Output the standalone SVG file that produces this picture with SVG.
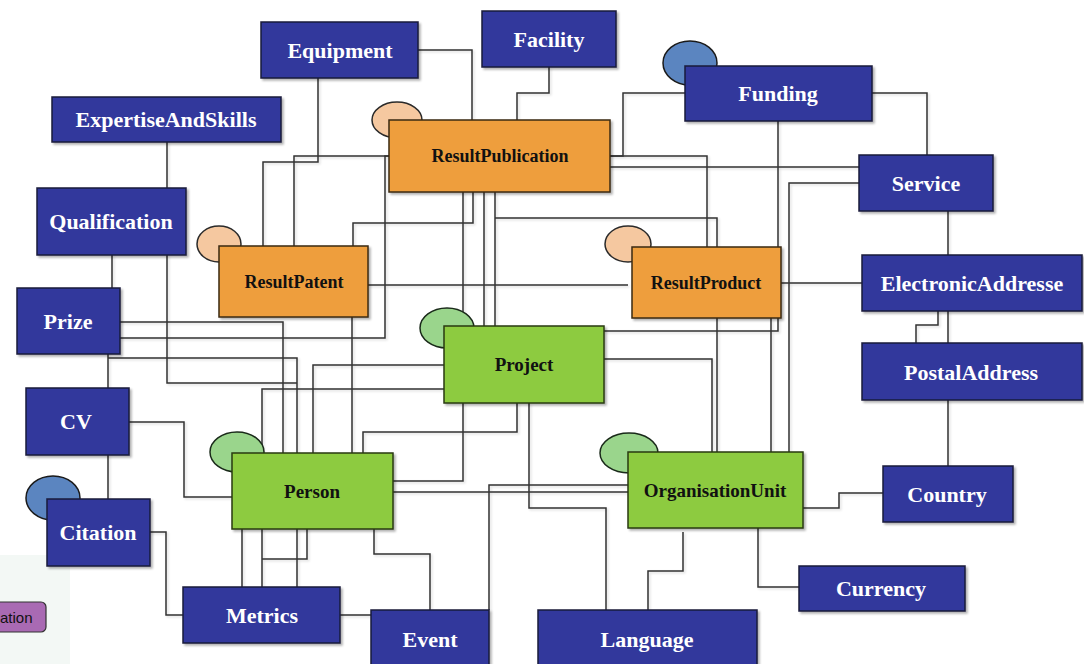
<svg xmlns="http://www.w3.org/2000/svg" width="1084" height="664" viewBox="0 0 1084 664">
<style>
.blue{fill:#33399c;stroke:#1a1a3a;stroke-width:1.5}
.orange{fill:#ee9e3d;stroke:#3a2a10;stroke-width:1.5}
.green{fill:#8dcb40;stroke:#2a3a10;stroke-width:1.5}
.cb{fill:#5b85c0;stroke:#1a1a1a;stroke-width:1.5}
.co{fill:#f5c8a0;stroke:#2a2a2a;stroke-width:1.5}
.cg{fill:#9ad58c;stroke:#1a2a1a;stroke-width:1.5}
.wt{font-family:"Liberation Serif","Times New Roman",serif;font-weight:bold;font-size:22px;fill:#fff;text-anchor:middle}
.bt{font-family:"Liberation Serif","Times New Roman",serif;font-weight:bold;font-size:18px;fill:#111;text-anchor:middle}
.gt{font-size:19px}
#connectors path{fill:none;stroke:#333;stroke-width:1.5}
</style>
<defs>
<filter id="sh" x="-10%" y="-10%" width="130%" height="130%">
<feDropShadow dx="2" dy="2" stdDeviation="1" flood-color="#000" flood-opacity="0.3"/>
</filter>
<filter id="lsh" x="-5%" y="-5%" width="110%" height="110%">
<feDropShadow dx="1.5" dy="1.5" stdDeviation="0.8" flood-color="#000" flood-opacity="0.15"/>
</filter>
</defs>
<rect x="0" y="0" width="1084" height="664" fill="#fff"/>
<rect x="0" y="555" width="70" height="109" fill="#f3f8f5"/>
<g id="ation">
<rect x="-8" y="602" width="54" height="30" rx="5" fill="#a96ab3" stroke="#333" stroke-width="1.2"/>
<text x="0" y="623" font-family="'Liberation Sans',Arial,sans-serif" font-size="15" fill="#111">ation</text>
</g>
<g id="connectors" filter="url(#lsh)">
<path d="M318,78 V162 H263 V246"/>
<path d="M418,50 H472 V120"/>
<path d="M549,67 V93 H517 V120"/>
<path d="M685,93 H623 V156 H610"/>
<path d="M610,156 H707 V247"/>
<path d="M610,167 H859"/>
<path d="M872,93 H927 V155"/>
<path d="M778,121 V331 H604"/>
<path d="M859,183 H789 V452"/>
<path d="M948,211 V255"/>
<path d="M781,283 H862"/>
<path d="M948,311 V343"/>
<path d="M938,311 V325 H916 V343"/>
<path d="M948,400 V466"/>
<path d="M803,508 H839 V493 H883"/>
<path d="M758,528 V587 H799"/>
<path d="M683,532 V571 H648 V610"/>
<path d="M529,403 V508 H606 V610"/>
<path d="M489,610 V485 H628"/>
<path d="M393,492 H628"/>
<path d="M463,192 V481 H393"/>
<path d="M484,192 V326"/>
<path d="M495,192 V326"/>
<path d="M495,218 H717 V247"/>
<path d="M473,192 V223 H353 V246"/>
<path d="M390,156 H294 V246"/>
<path d="M120,338 H385 V156 H390"/>
<path d="M120,322 H283 V453"/>
<path d="M352,317 V453"/>
<path d="M368,285 H628"/>
<path d="M444,365 H313 V453"/>
<path d="M444,389 H262 V453"/>
<path d="M517,403 V432 H363 V453"/>
<path d="M604,359 H712 V452"/>
<path d="M717,318 V452"/>
<path d="M771,318 V452"/>
<path d="M167,142 V188"/>
<path d="M112,255 V288"/>
<path d="M167,255 V383 H297"/>
<path d="M108,354 V388"/>
<path d="M108,358 H297 V453"/>
<path d="M129,422 H184 V497 H232"/>
<path d="M108,455 V499"/>
<path d="M150,532 H166 V615 H183"/>
<path d="M242,529 V587"/>
<path d="M262,529 V587"/>
<path d="M297,529 V587"/>
<path d="M307,529 V559 H262"/>
<path d="M374,529 V554 H430 V610"/>
<path d="M340,615 H372"/>
</g>
<g id="Equipment"><rect class="blue" x="261" y="22" width="157" height="56" filter="url(#sh)"/><text class="wt" x="340" y="58">Equipment</text></g>
<g id="Facility"><rect class="blue" x="482" y="11" width="134" height="56" filter="url(#sh)"/><text class="wt" x="549" y="47">Facility</text></g>
<g id="Funding"><ellipse class="cb" cx="690" cy="63" rx="27" ry="22"/><rect class="blue" x="685" y="66" width="187" height="55" filter="url(#sh)"/><text class="wt" x="778" y="101">Funding</text></g>
<g id="ExpertiseAndSkills"><rect class="blue" x="52" y="97" width="229" height="45" filter="url(#sh)"/><text class="wt" x="166" y="127">ExpertiseAndSkills</text></g>
<g id="Qualification"><rect class="blue" x="37" y="188" width="149" height="67" filter="url(#sh)"/><text class="wt" x="111" y="229">Qualification</text></g>
<g id="ResultPublication"><ellipse class="co" cx="397" cy="120" rx="25" ry="18"/><rect class="orange" x="389" y="120" width="221" height="72" filter="url(#sh)"/><text class="bt" x="500" y="162">ResultPublication</text></g>
<g id="ResultPatent"><ellipse class="co" cx="219" cy="244" rx="22" ry="18"/><rect class="orange" x="219" y="246" width="149" height="71" filter="url(#sh)"/><text class="bt" x="294" y="288">ResultPatent</text></g>
<g id="ResultProduct"><ellipse class="co" cx="628" cy="244" rx="23" ry="18"/><rect class="orange" x="632" y="247" width="149" height="71" filter="url(#sh)"/><text class="bt" x="706" y="289">ResultProduct</text></g>
<g id="Service"><rect class="blue" x="859" y="155" width="134" height="56" filter="url(#sh)"/><text class="wt" x="926" y="191">Service</text></g>
<g id="ElectronicAddresse"><rect class="blue" x="862" y="255" width="220" height="56" filter="url(#sh)"/><text class="wt" x="972" y="291">ElectronicAddresse</text></g>
<g id="PostalAddress"><rect class="blue" x="862" y="343" width="220" height="57" filter="url(#sh)"/><text class="wt" x="971" y="380">PostalAddress</text></g>
<g id="Prize"><rect class="blue" x="17" y="288" width="103" height="66" filter="url(#sh)"/><text class="wt" x="68" y="329">Prize</text></g>
<g id="Project"><ellipse class="cg" cx="447" cy="328" rx="27" ry="20"/><rect class="green" x="444" y="326" width="160" height="77" filter="url(#sh)"/><text class="bt gt" x="524" y="371">Project</text></g>
<g id="CV"><rect class="blue" x="26" y="388" width="103" height="67" filter="url(#sh)"/><text class="wt" x="76" y="429">CV</text></g>
<g id="Person"><ellipse class="cg" cx="237" cy="452" rx="27" ry="20"/><rect class="green" x="232" y="453" width="161" height="76" filter="url(#sh)"/><text class="bt gt" x="312" y="498">Person</text></g>
<g id="OrganisationUnit"><ellipse class="cg" cx="629" cy="453" rx="29" ry="20"/><rect class="green" x="628" y="452" width="175" height="76" filter="url(#sh)"/><text class="bt gt" x="715" y="497">OrganisationUnit</text></g>
<g id="Country"><rect class="blue" x="883" y="466" width="130" height="56" filter="url(#sh)"/><text class="wt" x="947" y="502">Country</text></g>
<g id="Citation"><ellipse class="cb" cx="53" cy="498" rx="27" ry="22"/><rect class="blue" x="47" y="499" width="103" height="67" filter="url(#sh)"/><text class="wt" x="98" y="540">Citation</text></g>
<g id="Currency"><rect class="blue" x="799" y="566" width="166" height="45" filter="url(#sh)"/><text class="wt" x="881" y="596">Currency</text></g>
<g id="Metrics"><rect class="blue" x="183" y="587" width="157" height="56" filter="url(#sh)"/><text class="wt" x="262" y="623">Metrics</text></g>
<g id="Event"><rect class="blue" x="371" y="610" width="118" height="60" filter="url(#sh)"/><text class="wt" x="430" y="647">Event</text></g>
<g id="Language"><rect class="blue" x="538" y="610" width="219" height="60" filter="url(#sh)"/><text class="wt" x="647" y="647">Language</text></g>
</svg>
